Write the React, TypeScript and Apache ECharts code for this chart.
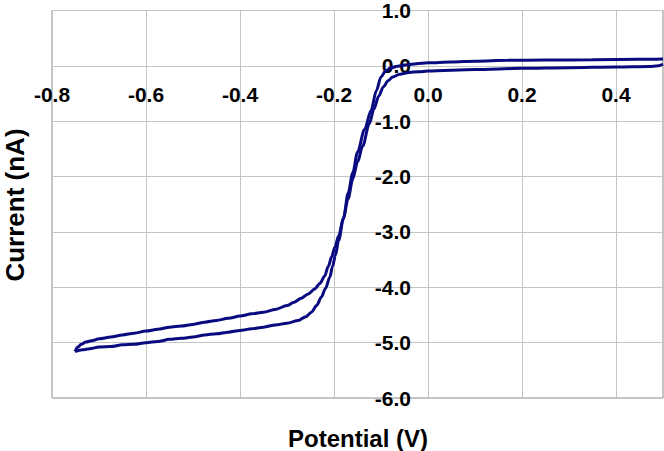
import React, { useEffect, useRef } from "react";
import * as echarts from "echarts";

// Potential (V) / Current (nA) pairs
const branchA: [number, number][] = [
  [-0.751, -5.16], [-0.745, -5.08], [-0.738, -5.03], [-0.728, -4.99], [-0.713, -4.96],
  [-0.7, -4.93], [-0.675, -4.9], [-0.65, -4.86], [-0.625, -4.83], [-0.6, -4.79],
  [-0.575, -4.76], [-0.55, -4.72], [-0.525, -4.7], [-0.5, -4.67], [-0.475, -4.63],
  [-0.45, -4.6], [-0.425, -4.56], [-0.4, -4.52], [-0.375, -4.48], [-0.35, -4.45],
  [-0.325, -4.4], [-0.3, -4.33], [-0.285, -4.27], [-0.27, -4.2], [-0.255, -4.12],
  [-0.241, -4.03], [-0.23, -3.93], [-0.22, -3.8], [-0.212, -3.62], [-0.205, -3.45],
  [-0.198, -3.27], [-0.19, -3.07], [-0.18, -2.75], [-0.17, -2.4], [-0.16, -2.04],
  [-0.15, -1.74], [-0.139, -1.45], [-0.125, -1.05], [-0.115, -0.78], [-0.105, -0.55],
  [-0.095, -0.38], [-0.085, -0.27], [-0.075, -0.2], [-0.06, -0.15], [-0.04, -0.12],
  [-0.02, -0.105], [0.0, -0.095], [0.1, -0.068], [0.2, -0.045], [0.3, -0.032],
  [0.4, -0.02], [0.47, -0.012], [0.49, 0.0], [0.5, 0.03],
];

const branchB: [number, number][] = [
  [-0.751, -5.16], [-0.735, -5.13], [-0.72, -5.11], [-0.7, -5.08], [-0.675, -5.07],
  [-0.65, -5.04], [-0.625, -5.03], [-0.6, -5.0], [-0.575, -4.98], [-0.55, -4.94],
  [-0.525, -4.92], [-0.5, -4.9], [-0.475, -4.86], [-0.45, -4.84], [-0.425, -4.81],
  [-0.4, -4.78], [-0.375, -4.75], [-0.35, -4.72], [-0.325, -4.68], [-0.3, -4.65],
  [-0.276, -4.6], [-0.26, -4.53], [-0.248, -4.45], [-0.237, -4.33], [-0.227, -4.18],
  [-0.218, -4.02], [-0.209, -3.82], [-0.203, -3.62], [-0.197, -3.42], [-0.19, -3.15],
  [-0.18, -2.76], [-0.17, -2.3], [-0.16, -1.93], [-0.15, -1.56], [-0.135, -1.15],
  [-0.121, -0.8], [-0.11, -0.45], [-0.1, -0.2], [-0.09, -0.09], [-0.079, -0.035],
  [-0.065, -0.005], [-0.045, 0.02], [-0.025, 0.04], [0.0, 0.055], [0.05, 0.07],
  [0.1, 0.085], [0.17, 0.1], [0.25, 0.105], [0.35, 0.11], [0.45, 0.118], [0.5, 0.125],
];

const xTitle = "Potential (V)";
const yTitle = "Current (nA)";

export default function App() {
  const ref = useRef<HTMLDivElement>(null);
  useEffect(() => {
    document.body.style.margin = "0";
    if (!ref.current) return;
    const chart = echarts.init(ref.current, undefined, { renderer: "svg" });
    const font = "'Liberation Sans', Arial, sans-serif";
    const gridColor = "#c4c4c4";
    const lineStyle = { color: "#0a0a80", width: 3 };
    const gLeft = 52, gTop = 7, gBottom = 53, W = 664, H = 451;
    const plotW = W - gLeft - 1;
    const plotH = H - gTop - gBottom;
    const xMin = -0.8, xMax = 0.5, yMin = -6, yMax = 1;
    // place axes (and their labels) at the zero of the other axis
    const xOffset = -((0 - yMin) / (yMax - yMin)) * plotH;
    const yOffset = -((0 - xMin) / (xMax - xMin)) * plotW;
    chart.setOption({
      animation: false,
      grid: {
        left: gLeft, right: 1, top: gTop, bottom: gBottom,
        show: true, borderColor: "#8c8c8c", borderWidth: 1, containLabel: false,
      },
      xAxis: {
        type: "value", min: xMin, max: xMax, interval: 0.2, position: "bottom",
        offset: xOffset,
        axisLine: { show: false, onZero: false },
        axisTick: { show: false },
        splitLine: { show: true, lineStyle: { color: gridColor, width: 1 } },
        axisLabel: {
          showMaxLabel: false, margin: 21,
          formatter: (v: number) => v.toFixed(1),
          color: "#000", fontWeight: "bold", fontSize: 21, fontFamily: font,
        },
      },
      yAxis: {
        type: "value", min: yMin, max: yMax, interval: 1, position: "left",
        offset: yOffset,
        axisLine: { show: false, onZero: false },
        axisTick: { show: false },
        splitLine: { show: true, lineStyle: { color: gridColor, width: 1 } },
        axisLabel: {
          margin: 17,
          formatter: (v: number) => v.toFixed(1),
          color: "#000", fontWeight: "bold", fontSize: 21, fontFamily: font,
        },
      },
      graphic: [
        {
          type: "text", x: 358, y: 438,
          style: {
            text: xTitle, align: "center", verticalAlign: "middle",
            font: `bold 24px ${font}`, fill: "#000",
          },
        },
        {
          type: "text", x: 15, y: 205, rotation: Math.PI / 2,
          style: {
            text: yTitle, align: "center", verticalAlign: "middle",
            font: `bold 26px ${font}`, fill: "#000",
          },
        },
      ],
      series: [
        { type: "line", data: branchA, showSymbol: false, lineStyle, z: 3, smooth: 0.3, smoothMonotone: "x" },
        { type: "line", data: branchB, showSymbol: false, lineStyle, z: 3, smooth: 0.3, smoothMonotone: "x" },
      ],
    });
    return () => chart.dispose();
  }, []);
  return <div ref={ref} style={{ width: 664, height: 451 }} />;
}
